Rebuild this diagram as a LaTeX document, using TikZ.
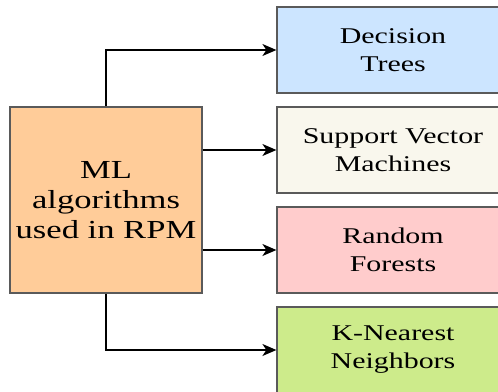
\documentclass[tikz,border=0pt]{standalone}
\usepackage{fontspec}
\setmainfont{Liberation Serif}[FakeStretch=1.33]
\usetikzlibrary{arrows.meta}

\definecolor{boxline}{HTML}{5A5A5A}
\definecolor{mlfill}{HTML}{FFCC99}
\definecolor{dtfill}{HTML}{CCE5FF}
\definecolor{svmfill}{HTML}{F9F7ED}
\definecolor{rffill}{HTML}{FFCCCC}
\definecolor{knnfill}{HTML}{CDEB8B}

\begin{document}
\begin{tikzpicture}[
    x=1pt, y=-1pt,
    algo/.style={draw=boxline, line width=1.2pt, minimum width=232pt, minimum height=86pt,
        align=center, inner sep=0pt, font=\rmfamily\fontsize{22.5pt}{28pt}\selectfont}, % Style for the method boxes
        link/.style={black, line width=1.4pt, -{Stealth[length=14pt, width=12pt, inset=4pt]}} % Style for the arrows
]
% Keep the page the size of the reference (right and bottom boxes run off it)
\clip (0,0) rectangle (498,391);

% Main box on the left
\node[draw=boxline, line width=1.2pt, fill=mlfill, minimum width=192pt, minimum height=186pt,
    align=center, inner sep=0pt, font=\rmfamily\fontsize{26pt}{30pt}\selectfont] (ml) at (106,200)
    {ML\\algorithms\\used in RPM};

% The four methods, one above the other
\node[algo, fill=dtfill] (dt) at (393,50) {Decision\\Trees};
\node[algo, fill=svmfill] (svm) at (393,150) {Support Vector\\Machines};
\node[algo, fill=rffill] (rf) at (393,250) {Random\\Forests};
\node[algo, fill=knnfill] (knn) at (393,350) {K-Nearest\\Neighbors};

% Connectors from the main box
\draw[link] (ml.north) |- (dt.west);
\draw[link] (ml.east |- svm.west) -- (svm.west);
\draw[link] (ml.east |- rf.west) -- (rf.west);
\draw[link] (ml.south) |- (knn.west);

\end{tikzpicture}
\end{document}
